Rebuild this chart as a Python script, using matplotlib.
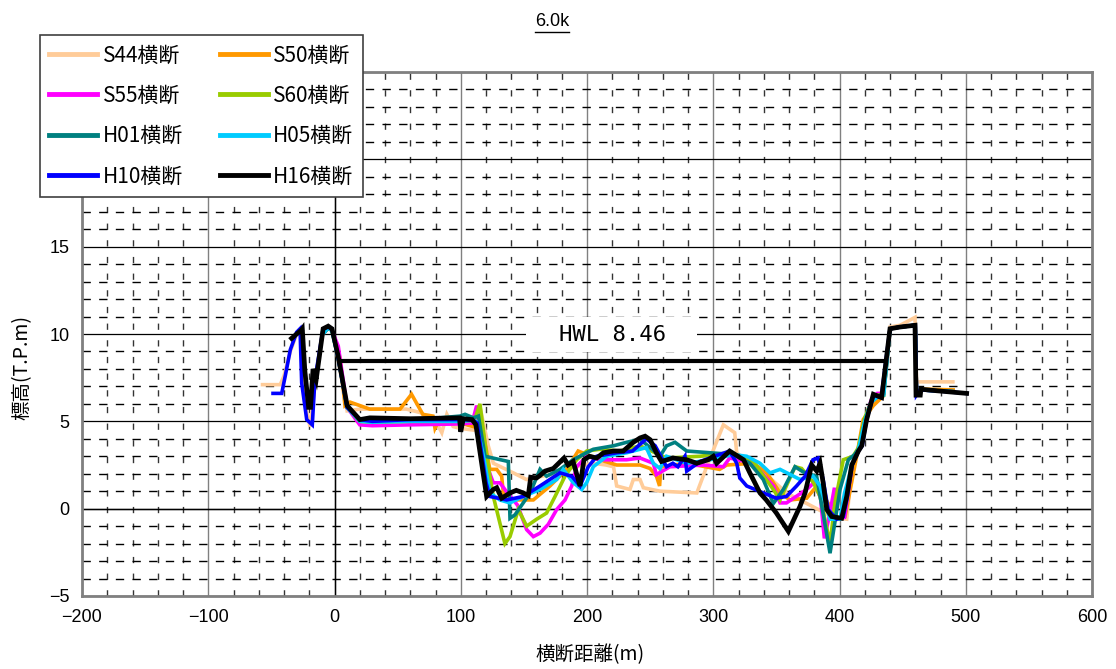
import matplotlib
matplotlib.use("Agg")
import matplotlib.pyplot as plt
from matplotlib.ticker import MultipleLocator
from matplotlib.lines import Line2D
from matplotlib.patches import Rectangle

plt.rcParams['font.family'] = ['Noto Sans CJK JP', 'DejaVu Sans']

# cross-section surveys at 6.0k: distance (m) / elevation (T.P. m)
s44_x = [-57, -43, -40, -35, -30, -27, -25, -22, -19.4, -15, -9, -5, -2, 3, 10, 20, 57, 68, 81, 85, 89,
         94, 99.4, 110, 115, 121.8, 125.8, 141.6, 152, 160, 175, 190, 205, 215, 221, 223.5, 234, 236.7,
         242, 244.6, 257.8, 287, 294.8, 308, 317, 318.6, 331.7, 339.6, 358, 384.6, 395, 405.7, 410, 415,
         420, 425, 430, 435, 440, 448, 459.8, 461, 489.8]
s44_y = [7.1, 7.1, 7.6, 9.0, 10.0, 10.2, 9.0, 5.5, 4.7, 7.4, 10.3, 10.4, 10.3, 8.5, 5.6, 5.7, 5.7, 5.5, 4.9, 4.35, 5.4,
         4.7, 4.6, 4.5, 5.9, 3.6, 2.6, 2.05, 1.67, 1.8, 2.0, 2.4, 2.6, 2.5, 2.4, 1.3, 1.1, 1.67,
         1.67, 1.2, 1.0, 0.9, 2.4, 4.8, 4.35, 3.2, 2.4, 2.1, 0.9, -0.1, -0.5, -0.6, 2.4, 3.5,
         5.0, 6.0, 6.3, 6.9, 10.4, 10.5, 10.95, 7.26, 7.26]

s50_x = [-8, -5, -2, 4.4, 8.3, 12.3, 28, 51.9, 61, 70, 78, 79.6, 83.6, 99.4, 110, 114, 123, 128.5, 132.4,
         133.7, 136.4, 157.5, 170.7, 183.9, 193, 199.8, 210, 223.5, 242, 250, 255, 257.5, 258.5, 279, 305,
         310.7, 331.7, 342.4, 352.9, 360.8, 374, 382, 384.6, 392.5, 399, 404.4, 413.6, 418.8, 426.8, 434.7,
         440, 448, 460, 461, 464, 490]
s50_y = [10.1, 10.35, 10.2, 8.6, 5.9, 6.1, 5.7, 5.7, 6.55, 5.4, 5.3, 4.6, 5.2, 4.9, 4.7, 5.9, 2.25, 2.25, 1.86,
         0.9, 0.5, 0.5, 1.3, 2.25, 3.3, 3.1, 2.8, 2.5, 2.5, 2.3, 1.86, 1.3, 2.4, 2.6, 2.25,
         2.5, 2.6, 2.05, 0.9, 0.5, 0.6, 1.3, 1.1, 0.13, -0.6, -0.45, 3.0, 5.1, 5.9, 6.45,
         10.3, 10.4, 10.5, 6.6, 6.85, 6.8]

s55_x = [-8, -5, -2, 3, 10, 20, 30, 60, 99, 109, 112.6, 117.9, 125.8, 131, 136, 145, 152.2, 157.5, 162.8,
         169.3, 176, 182.6, 187.9, 191.8, 199.8, 210, 231.4, 242, 252.5, 255, 265.7, 292, 308, 313, 331.7,
         347.6, 352.9, 358, 374, 380, 385, 388, 392, 396, 397, 404, 410, 415, 420, 425, 430, 435, 440, 448,
         460, 461, 464, 490]
s55_y = [10.1, 10.35, 10.2, 9.3, 5.8, 4.8, 4.75, 4.8, 4.85, 4.9, 5.9, 3.0, 1.48, 1.48, 1.0, 0.2, -1.2, -1.6, -1.4,
         -0.9, -0.05, 0.5, 1.3, 2.4, 3.0, 2.8, 2.8, 2.9, 2.6, 1.95, 2.4, 2.5, 2.4, 2.9, 2.6,
         1.3, 0.33, 0.33, 1.1, 1.5, 0.6, -1.7, -0.4, 1.2, -0.6, -0.5, 2.5, 3.3, 5.0, 6.2, 6.6, 6.6, 10.3, 10.4,
         10.5, 6.6, 6.8, 6.7]

s60_x = [-8, -5, -2, 3, 10, 20, 30, 60, 99, 108, 112, 115.2, 120.5, 125.8, 135, 139, 145.6, 152.2, 160.2,
         168, 174.7, 182.6, 191.8, 199.8, 210, 226, 242, 263, 289.5, 313, 331.7, 347.6, 352.9, 364.8, 370,
         379.3, 384.6, 392.5, 396.4, 403, 410.8, 415, 420, 425, 430, 435, 440, 448, 460, 461, 464, 490]
s60_y = [10.1, 10.35, 10.2, 8.6, 5.8, 5.0, 4.95, 5.0, 5.0, 5.05, 5.3, 6.0, 3.0, 0.7, -2.0, -1.6, -0.05, -1.0, -0.6,
         -0.25, 0.7, 1.86, 2.8, 3.3, 3.4, 3.3, 3.6, 2.9, 3.0, 3.2, 2.7, 1.1, 0.5, 2.4, 2.3,
         1.5, 0.7, -2.0, 0.33, 2.8, 3.0, 3.5, 5.2, 6.1, 6.5, 6.5, 10.3, 10.4, 10.5, 6.6, 6.8, 6.7]

h01_x = [-8, -5, -2, 3, 10, 20, 30, 60, 99.4, 103.4, 110, 114, 119.2, 137.7, 139, 143, 154.9, 162.8, 168,
         178.6, 189, 205, 221, 231.4, 242, 250, 257.8, 263, 269.7, 279, 297.4, 316, 329, 339.6, 347.6,
         355.5, 364.8, 371.3, 381.9, 392.5, 400.4, 407, 412, 416, 420, 425, 430, 435, 440, 448, 460, 461,
         464, 490]
h01_y = [10.1, 10.35, 10.2, 8.6, 5.8, 5.05, 5.0, 5.05, 5.3, 5.4, 5.2, 5.3, 3.0, 2.7, -0.55, -0.35, 0.9, 2.25, 1.86,
         2.25, 2.8, 3.4, 3.6, 3.8, 3.97, 3.5, 3.0, 3.6, 3.8, 3.3, 3.2, 3.1, 2.6, 1.67, 0.3,
         1.1, 2.4, 2.1, 1.85, -2.55, 1.1, 2.8, 3.1, 3.5, 5.0, 6.1, 6.4, 6.6, 10.3, 10.4, 10.5, 6.6,
         6.8, 6.7]

h05_x = [-8, -5, -2, 3, 10, 20, 30, 60, 99, 108, 112, 118, 123.2, 131, 139, 149.6, 162.8, 176, 181.2, 189,
         195.8, 199.8, 205, 215.6, 231.4, 242, 247, 252.5, 257.8, 263, 279, 297.4, 316, 326.5, 337, 345,
         352.9, 368.7, 379, 384.6, 392.5, 400.4, 404, 410, 415, 420, 425, 430, 435, 440, 448, 460, 461, 464,
         490]
h05_y = [10.1, 10.35, 10.2, 8.6, 5.8, 5.0, 4.95, 5.0, 5.0, 5.05, 5.0, 3.0, 0.9, 0.5, 0.33, 0.7, 1.1, 1.67, 2.25, 1.5,
         1.1, 1.5, 2.4, 3.0, 3.2, 3.4, 3.5, 2.6, 2.3, 3.0, 2.6, 2.8, 3.1, 3.0, 2.6, 2.05,
         2.25, 1.67, 1.86, 1.3, -0.6, -0.6, 0.9, 2.5, 3.4, 5.0, 6.1, 6.4, 6.5, 10.3, 10.4, 10.5, 6.6, 6.8,
         6.7]

h10_x = [-48.7, -41.8, -39, -35, -30, -27.3, -26, -22, -17.6, -15.5, -9, -5, -2, 3, 10, 20, 30, 60, 99, 100,
         102, 110, 113, 120, 123, 136.4, 149.5, 162.8, 178.6, 188, 194.5, 201, 207.7, 223.5, 236, 247, 254,
         263, 268, 272, 277.6, 279, 289.5, 305, 313, 318.6, 321, 326.5, 339.6, 350, 358, 366, 372.7, 379,
         383, 387, 391, 397.8, 403, 406, 410, 415, 418, 421.5, 427, 433, 440, 448, 460, 461, 464, 477, 500.7]
h10_y = [6.6, 6.6, 7.6, 9.1, 10.1, 10.3, 7.2, 5.1, 4.8, 7.4, 10.3, 10.4, 10.3, 8.6, 5.8, 5.1, 5.0, 5.1, 5.1, 4.6,
         5.1, 5.05, 4.9, 1.5, 0.7, 0.5, 0.7, 1.3, 2.05, 1.85, 1.3, 2.4, 3.0, 3.2, 3.3, 4.0, 3.6,
         2.4, 2.6, 2.4, 3.0, 2.15, 2.7, 3.1, 3.3, 2.6, 1.76, 1.3, 0.9, 0.6, 0.7, 1.3, 1.85, 2.8,
         2.9, 1.67, -0.05, -0.6, -0.45, 0.6, 2.5, 3.3, 3.6, 5.1, 6.5, 6.35, 10.3, 10.4, 10.5, 6.5, 6.8, 6.75, 6.6]

h16_x = [-34, -30, -26.5, -25.5, -23.5, -20.5, -19, -17, -14.5, -9, -5, -2, 3, 10, 20, 28, 60, 99, 100, 102,
         109, 112, 120.5, 125.8, 128.5, 132.4, 139, 144, 149.5, 153.5, 155.4, 160, 162.8, 166.7, 173.3,
         181.8, 185, 189, 194.5, 197.6, 202, 207.7, 213, 220.8, 228.7, 236.7, 242, 246, 250, 255, 259, 268,
         279, 287, 296, 300, 302.7, 313, 324, 329, 337, 342, 350, 359.5, 368.7, 372.7, 378, 382, 384.6, 387,
         389.9, 393.8, 401.7, 405.7, 409.7, 415, 417.6, 421.5, 426.8, 433.4, 440, 448, 459.8, 460.6, 464,
         464.5, 477, 500.7]
h16_y = [9.75, 10.0, 10.2, 10.3, 7.9, 5.8, 5.8, 8.0, 7.4, 10.3, 10.45, 10.3, 8.7, 5.9, 5.1, 5.2, 5.15, 5.2, 4.4, 5.15,
         5.1, 4.8, 0.7, 1.1, 1.2, 0.6, 0.9, 1.05, 0.9, 0.75, 1.8, 1.76, 1.9, 2.15, 2.3,
         2.9, 2.5, 2.7, 1.3, 2.8, 3.0, 2.9, 3.2, 3.3, 3.3, 3.8, 4.05, 4.15, 3.95, 3.2, 2.7, 2.9,
         2.8, 2.6, 2.8, 3.0, 2.6, 3.3, 2.8, 2.05, 0.9, 0.5, -0.25, -1.3, 0.13, 0.9, 2.5, 2.15, 2.6, 1.5,
         -0.05, -0.45, -0.55, 0.7, 2.5, 3.3, 3.6, 5.1, 6.55, 6.36, 10.3, 10.4, 10.5, 6.5, 6.5,
         6.84, 6.75, 6.6]

# high water level
hwl_x = [4, 436]
hwl = 8.46

profiles = [
    ("S44横断", s44_x, s44_y, "#FFCC99"),
    ("S50横断", s50_x, s50_y, "#FF9900"),
    ("S55横断", s55_x, s55_y, "#FF00FF"),
    ("S60横断", s60_x, s60_y, "#99CC00"),
    ("H01横断", h01_x, h01_y, "#008080"),
    ("H05横断", h05_x, h05_y, "#00CCFF"),
    ("H10横断", h10_x, h10_y, "#0000FF"),
    ("H16横断", h16_x, h16_y, "#000000"),
]

W, H = 1116, 669
fig = plt.figure(figsize=(W / 100, H / 100), dpi=100)
ax = fig.add_axes([82 / W, 73 / H, 1010 / W, 524 / H])
ax.set_xlim(-200, 600)
ax.set_ylim(-5, 25)

ax.xaxis.set_major_locator(MultipleLocator(100))
ax.xaxis.set_minor_locator(MultipleLocator(20))
ax.yaxis.set_major_locator(MultipleLocator(5))
ax.yaxis.set_minor_locator(MultipleLocator(1))
ax.set_axisbelow(True)
ax.grid(which='major', axis='x', color='#808080', lw=1.0)
ax.grid(which='major', axis='y', color='black', lw=0.9)
ax.grid(which='minor', axis='x', color='#333333', lw=1.0, ls=(0, (4.5, 7.5)))
ax.grid(which='minor', axis='y', color='black', lw=1.0, ls=(0, (6, 6)))
ax.axhline(0, color='black', lw=1.0, zorder=1)
ax.axvline(0, color='black', lw=1.0, zorder=1)

for sp in ax.spines.values():
    sp.set_color('#808080')
    sp.set_linewidth(2)

ax.tick_params(which='both', length=0)
ax.tick_params(axis='y', pad=9, labelsize=13)
ax.tick_params(axis='x', pad=9, labelsize=13)
for lab in ax.get_yticklabels() + ax.get_xticklabels():
    lab.set_family(['Liberation Sans', 'DejaVu Sans'])

handles = {}
for name, xs, ys, col in profiles:
    lw = 3.4 if name.startswith("H16") else 2.6
    ln, = ax.plot(xs, ys, color=col, lw=lw, label=name, solid_joinstyle='miter')
    handles[name] = ln

# HWL line with its label box sitting just above it
ax.add_patch(Rectangle((152, 8.97), 135, 2.03, fc='white', ec='none', zorder=3))
ax.text(220, 9.95, "HWL 8.46", ha='center', va='center', fontsize=16,
        family=['DejaVu Sans Mono'], zorder=4)
ax.plot(hwl_x, [hwl, hwl], color='black', lw=3.0, solid_capstyle='butt', zorder=5)

ax.set_xlabel("横断距離(m)", fontsize=14)
ax.set_ylabel("標高(T.P.m)", fontsize=14)
ax.xaxis.set_label_coords(0.503, -0.092)
ax.yaxis.set_label_coords(-0.049, 0.437)

# legend filled row by row: two columns
order = [0, 2, 4, 6, 1, 3, 5, 7]
names = [profiles[i][0] for i in order]
leg = ax.legend([handles[n] for n in names], names, ncol=2, loc='upper left',
                bbox_to_anchor=(40 / W, 1 - 35 / H), bbox_transform=fig.transFigure,
                fontsize=15, frameon=True, fancybox=False, framealpha=1,
                handlelength=2.3, handletextpad=0.25, columnspacing=1.8,
                labelspacing=0.88, borderpad=0.45, borderaxespad=0)
leg.get_frame().set_edgecolor('#404040')
leg.get_frame().set_linewidth(1.2)
for ln in leg.get_lines():
    ln.set_linewidth(3.5)
leg.set_zorder(10)

title = fig.text(552 / W, 1 - 22 / H, "6.0k", ha='center', va='center', fontsize=13,
                 family=['Liberation Sans', 'DejaVu Sans'])
fig.canvas.draw()
bb = title.get_window_extent()
fig.add_artist(Line2D([bb.x0 / W, bb.x1 / W], [(bb.y0 - 1) / H, (bb.y0 - 1) / H],
                      transform=fig.transFigure, color='black', lw=1))

fig.savefig("out.png", dpi=100)
